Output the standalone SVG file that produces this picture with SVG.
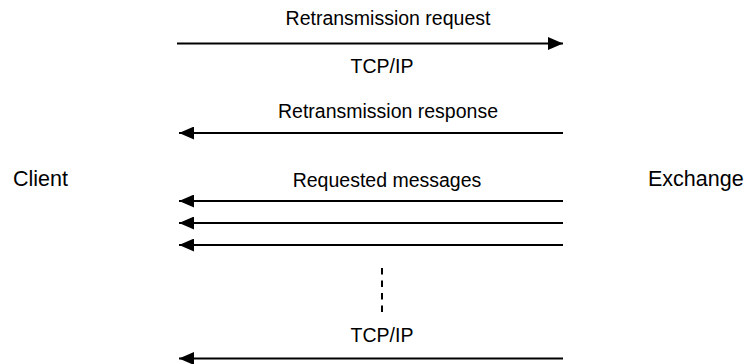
<svg xmlns="http://www.w3.org/2000/svg" width="750" height="364" viewBox="0 0 750 364">
<style>
text{font-family:"Liberation Sans",Arial,sans-serif;font-size:19.5px;fill:#000}
.c{text-anchor:middle}
.big{font-size:21.5px}
line{stroke:#000;stroke-width:2}
</style>
<defs>
<marker id="ah" markerWidth="15" markerHeight="13" refX="15" refY="6.5" orient="auto" markerUnits="userSpaceOnUse">
<path d="M0,0 L15,6.5 L0,13 Z" fill="#000"/>
</marker>
</defs>
<rect width="750" height="364" fill="#fff"/>
<g id="client"><text class="big" x="13" y="186">Client</text></g>
<g id="exchange"><text class="big" x="648" y="186">Exchange</text></g>
<g id="connectors">
<line x1="177" y1="43.5" x2="563" y2="43.5" marker-end="url(#ah)"/>
<line x1="563" y1="133" x2="179" y2="133" marker-end="url(#ah)"/>
<line x1="563" y1="201" x2="179" y2="201" marker-end="url(#ah)"/>
<line x1="563" y1="223" x2="179" y2="223" marker-end="url(#ah)"/>
<line x1="563" y1="245" x2="179" y2="245" marker-end="url(#ah)"/>
<line x1="563" y1="358.5" x2="179" y2="358.5" marker-end="url(#ah)"/>
<line x1="382" y1="268" x2="382" y2="314" stroke-dasharray="6.5,6"/>
</g>
<g id="labels">
<text class="c" x="388" y="25">Retransmission request</text>
<text class="c" x="382" y="73">TCP/IP</text>
<text class="c" x="388" y="118">Retransmission response</text>
<text class="c" x="387" y="187">Requested messages</text>
<text class="c" x="382" y="342">TCP/IP</text>
</g>
</svg>
